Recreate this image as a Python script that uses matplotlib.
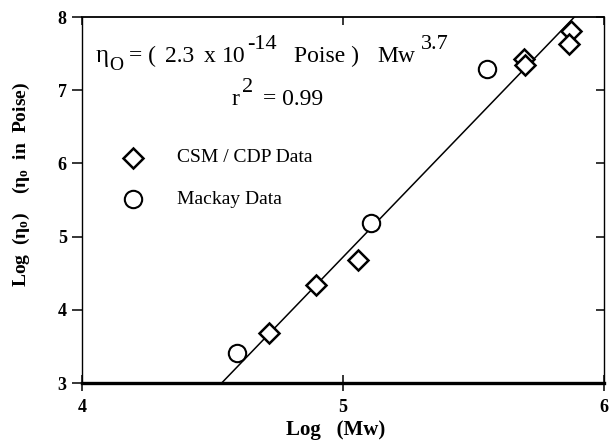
import numpy as np
import matplotlib.pyplot as plt
from matplotlib import lines as mlines

plt.rcParams['font.family'] = ['Liberation Serif', 'DejaVu Serif']
plt.rcParams['mathtext.fontset'] = 'custom'
plt.rcParams['mathtext.rm'] = 'Liberation Serif'
plt.rcParams['mathtext.it'] = 'Liberation Serif:italic'
plt.rcParams['mathtext.bf'] = 'Liberation Serif:bold'

# log Mw, log eta0
csm_x = [4.715, 4.895, 5.059, 5.694, 5.697, 5.872, 5.866]
csm_y = [3.68, 4.34, 4.68, 7.43, 7.35, 7.81, 7.63]
mackay_x = [4.593, 5.109, 5.553]
mackay_y = [3.41, 5.19, 7.29]

# power-law fit: log eta0 = a + 3.7 log Mw
fit_slope = 3.7
fit_intercept = -13.78

W, H = 611, 441
fig = plt.figure(figsize=(W / 100, H / 100), dpi=100)
ax = fig.add_axes([82 / W, 1 - 383 / H, 522 / W, 366 / H])


def ftext(x, y, s, **kw):
    # place text by pixel position (origin top-left)
    fig.text(x / W, 1 - y / H, s, va='baseline', **kw)


xf = np.array([4.0, 6.0])
ax.plot(xf, fit_intercept + fit_slope * xf, color='black', lw=1.1, zorder=2)

ax.plot(csm_x, csm_y, linestyle='none', marker='D', ms=10, mfc='white',
        mec='black', mew=1.8, zorder=3)
ax.plot(mackay_x, mackay_y, linestyle='none', marker='o', ms=12.5, mfc='white',
        mec='black', mew=1.5, zorder=3)

# legend drawn by hand
ax.plot([4.195], [6.08], marker='D', ms=10, mfc='white', mec='black', mew=1.8)
ax.plot([4.195], [5.51], marker='o', ms=12.5, mfc='white', mec='black', mew=1.5)
ax.text(4.365, 6.08, 'CSM / CDP Data', fontsize=14, va='center')
ax.text(4.365, 5.51, 'Mackay Data', fontsize=14, va='center')

# fit equation
ftext(96, 62, 'η', fontsize=18)
ftext(109, 70, 'O', fontsize=14)
ftext(129, 62, '= (', fontsize=17)
ftext(165, 62, '2.3', fontsize=17)
ftext(204, 62, 'x', fontsize=17)
ftext(222, 62, '10', fontsize=17)
ftext(247, 49, '-14', fontsize=16)
ftext(294, 62, 'Poise )', fontsize=17)
ftext(377, 62, 'Mw', fontsize=17)
ftext(421, 49, '3.7', fontsize=16)
ftext(231, 105, 'r', fontsize=17)
ftext(242, 92, '2', fontsize=16)
ftext(263, 105, '= 0.99', fontsize=17)

ax.set_xlim(4, 6)
ax.set_ylim(3, 8)
ax.set_xticks([4, 5, 6])
ax.set_yticks([3, 4, 5, 6, 7, 8])
ax.tick_params(axis='both', labelsize=13, width=1.1)
ax.tick_params(axis='y', direction='out', length=7, pad=4, right=True)
ax.tick_params(axis='x', direction='inout', length=11, pad=6, top=True)
for lab in ax.get_xticklabels() + ax.get_yticklabels():
    lab.set_fontweight('bold')
# ticks on the right and top point into the plot
for t in ax.yaxis.get_major_ticks():
    t.tick2line.set_marker(mlines.TICKLEFT)
    t.tick2line.set_markersize(6)
for t in ax.xaxis.get_major_ticks():
    t.tick2line.set_marker(mlines.TICKDOWN)
    t.tick2line.set_markersize(6)

ax.spines['bottom'].set_linewidth(2.4)
ax.spines['top'].set_linewidth(1.3)
ax.spines['left'].set_linewidth(1.0)
ax.spines['right'].set_linewidth(1.0)

fig.text(336 / W, 1 - 430 / H, 'Log   (Mw)', fontsize=15, fontweight='bold',
         ha='center', va='center')
fig.text(21 / W, 1 - 184 / H,
         r'Log  (η$_{\mathbf{o}}$)    (η$_{\mathbf{o}}$  in  Poise)',
         fontsize=14, fontweight='bold', rotation=90, ha='center', va='center')

fig.savefig('out.png', dpi=100)
